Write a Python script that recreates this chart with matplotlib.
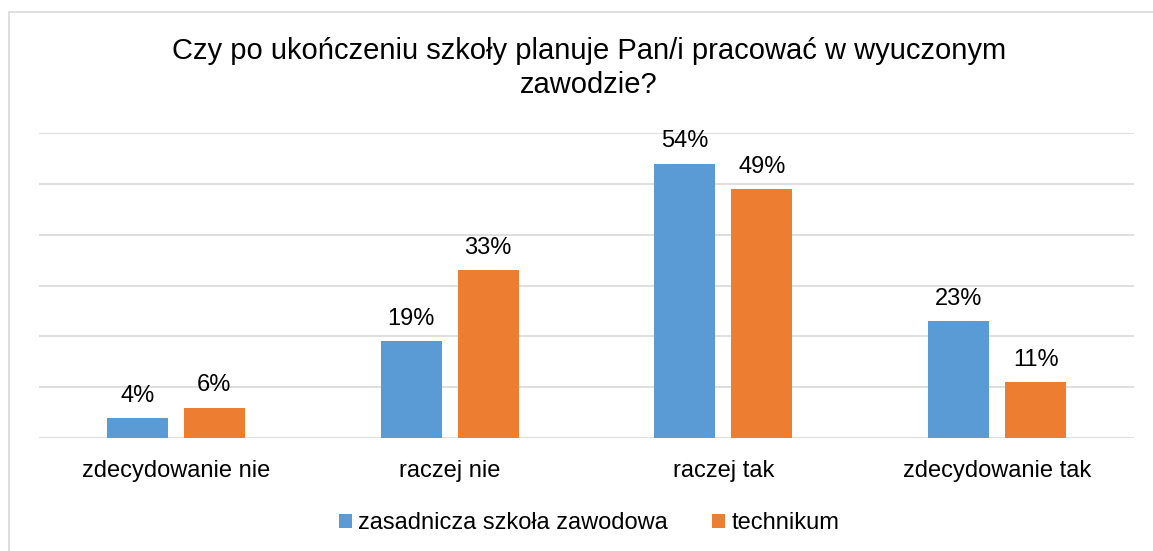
import matplotlib.pyplot as plt
import numpy as np
from matplotlib.patches import Rectangle

plt.rcParams['font.family'] = ['Liberation Sans', 'DejaVu Sans']

# dane
kategorie = ['zdecydowanie nie', 'raczej nie', 'raczej tak', 'zdecydowanie tak']
zsz = [4, 19, 54, 23]          # zasadnicza szkoła zawodowa
technikum = [6, 33, 49, 11]
serie = ['zasadnicza szkoła zawodowa', 'technikum']
kolory = ['#5B9BD5', '#ED7D31']

fig = plt.figure(figsize=(11.53, 5.51), dpi=100)
ax = fig.add_axes([39/1153, (551-438)/551, (1134-39)/1153, (438-133)/551])

x = np.arange(len(kategorie))
w = 0.223
off = 0.1406
b1 = ax.bar(x - off, zsz, w, color=kolory[0], label=serie[0], zorder=3)
b2 = ax.bar(x + off, technikum, w, color=kolory[1], label=serie[1], zorder=3)

for bars, vals in ((b1, zsz), (b2, technikum)):
    for b, v in zip(bars, vals):
        ax.annotate(f'{v}%', (b.get_x() + b.get_width()/2, v), xytext=(0, 8),
                    textcoords='offset points', ha='center', va='bottom',
                    fontsize=17, color='#000000')

ax.set_xlim(-0.5, 3.5)
ax.set_ylim(0, 60)
ax.set_yticks(np.arange(0, 61, 10))
ax.yaxis.grid(True, color='#D9D9D9', linewidth=1.2, zorder=0)
ax.tick_params(axis='y', left=False, labelleft=False)
ax.tick_params(axis='x', length=0, labelsize=17, pad=16)
ax.set_xticks(x)
ax.set_xticklabels(kategorie)
for s in ax.spines.values():
    s.set_visible(False)

fig.text(589/1153, 1 - 68/551, 'Czy po ukończeniu szkoły planuje Pan/i pracować w wyuczonym\nzawodzie?',
         ha='center', va='center', fontsize=21, linespacing=1.3)

fig.legend(loc='center', bbox_to_anchor=(589/1153, 1 - 523/551), ncol=2, frameon=False,
           fontsize=17, handlelength=0.55, handleheight=0.55, handletextpad=0.25,
           columnspacing=1.9)

# ramka wykresu
fig.patches.append(Rectangle((9/1153, -0.1), 1.2, 1 - 12/551 + 0.1, transform=fig.transFigure,
                             fill=False, edgecolor='#D9D9D9', linewidth=1.2))

fig.savefig('out.png', dpi=100, facecolor='white')
